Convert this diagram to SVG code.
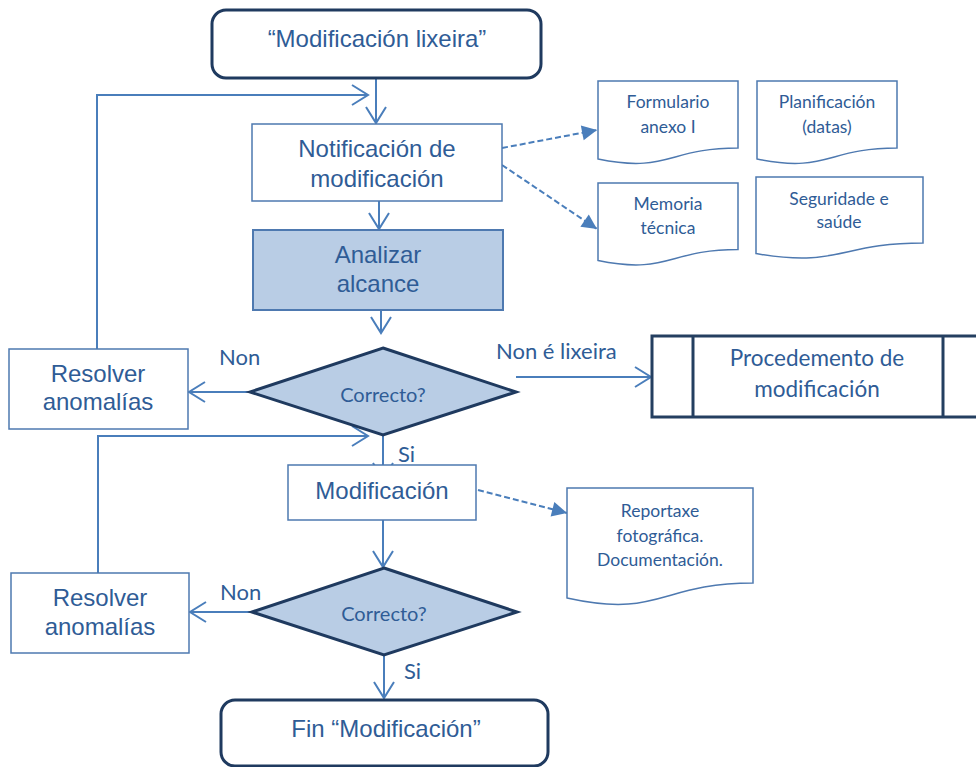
<svg xmlns="http://www.w3.org/2000/svg" width="976" height="767" viewBox="0 0 976 767">
<style>
.arial{font-family:"Liberation Sans",Arial,sans-serif;font-size:24px;fill:#2F5C96;text-anchor:middle}
.cal{font-family:Lato,"Liberation Sans",sans-serif;fill:#2F5C96;text-anchor:middle}
.lbl{font-family:Lato,"Liberation Sans",sans-serif;fill:#2F5C96;font-size:22px}
.box{fill:#fff;stroke:#4E79B0;stroke-width:1.5}
.term{fill:#fff;stroke:#1F3A5F;stroke-width:3}
.dec{fill:#B9CDE5;stroke:#1F3A5F;stroke-width:3;stroke-linejoin:miter}
.ana{fill:#B9CDE5;stroke:#4E79B0;stroke-width:2}
.doc{fill:#fff;stroke:#4E79B0;stroke-width:1.5}
.proc{fill:#fff;stroke:#243F60;stroke-width:3}
.con{fill:none;stroke:#4A7EBB;stroke-width:2}
.dash{fill:none;stroke:#4A7EBB;stroke-width:2;stroke-dasharray:6 3}
</style>
<defs>
<marker id="open" markerUnits="userSpaceOnUse" viewBox="-18 -12 20 24" refX="0" refY="0" markerWidth="20" markerHeight="24" orient="auto">
<path d="M-16,-10 L0,0 L-16,10" fill="none" stroke="#4A7EBB" stroke-width="2"/>
</marker>
<marker id="tri" markerUnits="userSpaceOnUse" viewBox="-16 -9 17 18" refX="0" refY="0" markerWidth="17" markerHeight="18" orient="auto">
<path d="M-15,-7.5 L0,0 L-15,7.5 Z" fill="#4A7EBB"/>
</marker>
</defs>

<g id="connectors">
<path class="con" d="M376,78 V123" marker-end="url(#open)"/>
<path class="con" d="M97,349 V95 H368" marker-end="url(#open)"/>
<path class="con" d="M379,201 V229" marker-end="url(#open)"/>
<path class="con" d="M381,310 V333" marker-end="url(#open)"/>
<path class="con" d="M250,392 H189" marker-end="url(#open)"/>
<path class="con" d="M516,377 H651" marker-end="url(#open)"/>
<path class="con" d="M383,435 V479" marker-end="url(#open)"/>
<path class="con" d="M98,573 V436 H368" marker-end="url(#open)"/>
<path class="con" d="M383,520 V567" marker-end="url(#open)"/>
<path class="con" d="M252,612 H190" marker-end="url(#open)"/>
<path class="con" d="M384,655 V698" marker-end="url(#open)"/>
<path class="dash" d="M502,148 L597,130" marker-end="url(#tri)"/>
<path class="dash" d="M502,165 L597,229" marker-end="url(#tri)"/>
<path class="dash" d="M478,490 L567,513" marker-end="url(#tri)"/>
<text class="lbl" x="219" y="365">Non</text>
<text class="lbl" x="496" y="359">Non é lixeira</text>
<text class="lbl" x="398" y="462">Si</text>
<text class="lbl" x="220" y="600">Non</text>
<text class="lbl" x="404" y="679">Si</text>
</g>

<g id="start">
<rect class="term" x="212" y="10" width="329" height="68" rx="14"/>
<text class="arial" x="377" y="47">“Modificación lixeira”</text>
</g>

<g id="notificacion">
<rect class="box" x="252" y="124" width="250" height="77"/>
<text class="arial" x="377" y="157">Notificación de</text>
<text class="arial" x="377" y="187">modificación</text>
</g>

<g id="analizar">
<rect class="ana" x="253" y="230" width="250" height="80"/>
<text class="arial" x="378" y="263">Analizar</text>
<text class="arial" x="378" y="292">alcance</text>
</g>

<g id="correcto1">
<polygon class="dec" points="383,348 516,392 383,435 250,392"/>
<text class="cal" x="383" y="402" font-size="20">Correcto?</text>
</g>

<g id="resolver1">
<rect class="box" x="9" y="349" width="179" height="80"/>
<text class="arial" x="98" y="382">Resolver</text>
<text class="arial" x="98" y="410">anomalías</text>
</g>

<g id="procedemento">
<rect class="proc" x="652" y="336" width="330" height="81"/>
<line class="proc" x1="693" y1="336" x2="693" y2="417"/>
<line class="proc" x1="943" y1="336" x2="943" y2="417"/>
<text class="cal" x="817" y="366" font-size="22.5">Procedemento de</text>
<text class="cal" x="817" y="397" font-size="22.5">modificación</text>
</g>

<g id="modificacion">
<rect class="box" x="288" y="465" width="188" height="55"/>
<text class="arial" x="382" y="499">Modificación</text>
</g>

<g id="correcto2">
<polygon class="dec" points="384,568 517,612 384,655 252,612"/>
<text class="cal" x="384" y="621" font-size="20">Correcto?</text>
</g>

<g id="resolver2">
<rect class="box" x="11" y="573" width="178" height="80"/>
<text class="arial" x="100" y="606">Resolver</text>
<text class="arial" x="100" y="635">anomalías</text>
</g>

<g id="fin">
<rect class="term" x="221" y="700" width="327" height="66" rx="14"/>
<text class="arial" x="386" y="737">Fin “Modificación”</text>
</g>

<g id="formulario">
<path class="doc" d="M598,81 H738 V148 C668,148 668,173.4 598,159 Z"/>
<text class="cal" x="668" y="108" font-size="17.5">Formulario</text>
<text class="cal" x="668" y="133" font-size="17.5">anexo I</text>
</g>

<g id="planificacion">
<path class="doc" d="M757,81 H897 V148 C827,148 827,173.4 757,159 Z"/>
<text class="cal" x="827" y="108" font-size="17.5">Planificación</text>
<text class="cal" x="827" y="133" font-size="17.5">(datas)</text>
</g>

<g id="memoria">
<path class="doc" d="M598,183 H738 V249.5 C668,249.5 668,274.9 598,260.5 Z"/>
<text class="cal" x="668" y="210" font-size="17.5">Memoria</text>
<text class="cal" x="668" y="234" font-size="17.5">técnica</text>
</g>

<g id="seguridade">
<path class="doc" d="M756,177 H923 V243 C839.5,243 839.5,268 756,253.6 Z"/>
<text class="cal" x="839" y="205" font-size="17.5">Seguridade e</text>
<text class="cal" x="839" y="228" font-size="17.5">saúde</text>
</g>

<g id="reportaxe">
<path class="doc" d="M567,488 H753 V583 C660,583 660,618.6 567,598 Z"/>
<text class="cal" x="660" y="517" font-size="17.5">Reportaxe</text>
<text class="cal" x="660" y="542" font-size="17.5">fotográfica.</text>
<text class="cal" x="660" y="566" font-size="17.5">Documentación.</text>
</g>
</svg>
